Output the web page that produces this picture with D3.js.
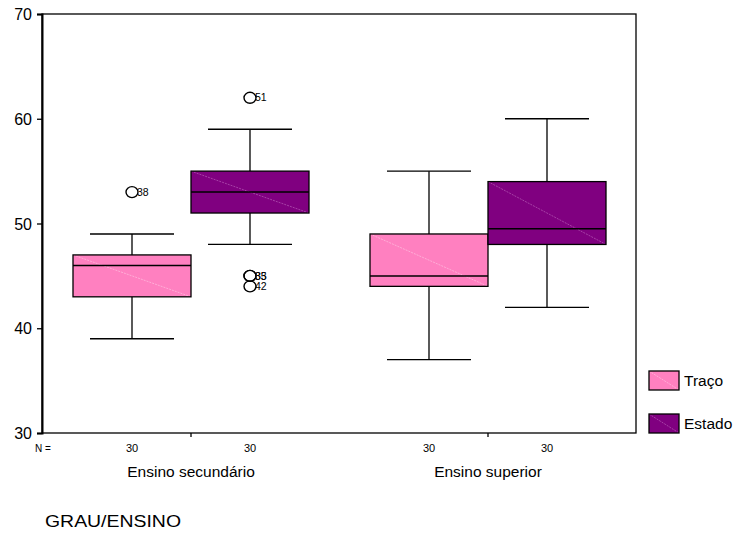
<!DOCTYPE html>
<html>
<head>
<meta charset="utf-8">
<script src="https://cdn.jsdelivr.net/npm/d3@7"></script>
<style>
  body { margin: 0; background: #fff; }
  text { font-family: "Liberation Sans", Arial, sans-serif; fill: #000; }
</style>
</head>
<body>
<div id="chart"></div>
<script>
// categories and series
var groups = ["Ensino secundário", "Ensino superior"];
var series = ["Traço", "Estado"];
var counts = [[30, 30], [30, 30]];

// box stats per group: [whiskerLow, q1, median, q3, whiskerHigh]
var tracoStats = [[39, 43, 46, 47, 49], [37, 44, 45, 49, 55]];
var estadoStats = [[48, 51, 53, 55, 59], [42, 48, 49.5, 54, 60]];

// outliers: group index, series index, value, case label
var outlierGroup = [0, 0, 0, 0, 0];
var outlierSeries = [0, 1, 1, 1, 1];
var outlierValue = [53, 62, 45, 45, 44];
var outlierLabel = ["38", "51", "33", "35", "42"];

var yTicks = [30, 40, 50, 60, 70];
var colors = { "Traço": "#ff80c0", "Estado": "#800080" };
var diagColors = { "Traço": "#ffb8dc", "Estado": "#b050b0" };

var width = 734, height = 534;
var margin = {top: 14, right: 98, bottom: 101, left: 42};
var plotW = width - margin.left - margin.right,
    plotH = height - margin.top - margin.bottom;

var svg = d3.select("#chart").append("svg")
    .attr("width", width)
    .attr("height", height);

var g = svg.append("g")
    .attr("transform", "translate(" + margin.left + "," + margin.top + ")");

// scales
var x0 = d3.scaleBand().domain(groups).range([0.5, plotW + 0.5]).padding(0);
var y = d3.scaleLinear().domain([30, 70]).range([plotH, 0]);
var boxW = 118;
var x1 = d3.scaleBand().domain(series).range([-boxW, boxW]).padding(0);
var capW = 84;

// frame
g.append("rect")
    .attr("x", 0).attr("y", 0)
    .attr("width", plotW).attr("height", plotH)
    .attr("fill", "none").attr("stroke", "#000").attr("stroke-width", 1.3);

// y axis
var yAxis = g.append("g")
    .call(d3.axisLeft(y).tickValues(yTicks).tickSize(5).tickPadding(5));
yAxis.select(".domain").attr("stroke-width", 2);
yAxis.selectAll(".tick line").attr("stroke-width", 1.3);
yAxis.selectAll("text").style("font-size", "16px").attr("dy", "0.35em");

// x axis ticks only
var xAxis = g.append("g")
    .attr("transform", "translate(0," + plotH + ")")
    .call(d3.axisBottom(x0).tickSize(4).tickFormat(""));
xAxis.select(".domain").remove();
xAxis.selectAll(".tick line").attr("stroke-width", 1.3);

// flatten box data
var boxes = [];
groups.forEach(function(gr, gi) {
  series.forEach(function(s, si) {
    var st = (s === "Traço" ? tracoStats : estadoStats)[gi];
    boxes.push({group: gr, series: s, n: counts[gi][si],
      lo: st[0], q1: st[1], med: st[2], q3: st[3], hi: st[4]});
  });
});

function cx(d) {
  return x0(d.group) + x0.bandwidth() / 2 + x1(d.series) + x1.bandwidth() / 2;
}

var bg = g.selectAll(".box").data(boxes).enter().append("g").attr("class", "box");

// whiskers
bg.append("line")
    .attr("x1", cx).attr("x2", cx)
    .attr("y1", function(d) { return y(d.lo); })
    .attr("y2", function(d) { return y(d.q1); })
    .attr("stroke", "#000").attr("stroke-width", 1.3);
bg.append("line")
    .attr("x1", cx).attr("x2", cx)
    .attr("y1", function(d) { return y(d.q3); })
    .attr("y2", function(d) { return y(d.hi); })
    .attr("stroke", "#000").attr("stroke-width", 1.3);
bg.append("line")
    .attr("x1", function(d) { return cx(d) - capW / 2; })
    .attr("x2", function(d) { return cx(d) + capW / 2; })
    .attr("y1", function(d) { return y(d.lo); })
    .attr("y2", function(d) { return y(d.lo); })
    .attr("stroke", "#000").attr("stroke-width", 1.3);
bg.append("line")
    .attr("x1", function(d) { return cx(d) - capW / 2; })
    .attr("x2", function(d) { return cx(d) + capW / 2; })
    .attr("y1", function(d) { return y(d.hi); })
    .attr("y2", function(d) { return y(d.hi); })
    .attr("stroke", "#000").attr("stroke-width", 1.3);

// box
bg.append("rect")
    .attr("x", function(d) { return cx(d) - boxW / 2; })
    .attr("y", function(d) { return y(d.q3); })
    .attr("width", boxW)
    .attr("height", function(d) { return y(d.q1) - y(d.q3); })
    .attr("fill", function(d) { return colors[d.series]; });
// faint diagonal
bg.append("line")
    .attr("x1", function(d) { return cx(d) - boxW / 2; })
    .attr("y1", function(d) { return y(d.q3); })
    .attr("x2", function(d) { return cx(d) + boxW / 2; })
    .attr("y2", function(d) { return y(d.q1); })
    .attr("stroke", function(d) { return diagColors[d.series]; })
    .attr("stroke-width", 0.8)
    .attr("stroke-dasharray", "2,1");
bg.append("rect")
    .attr("x", function(d) { return cx(d) - boxW / 2; })
    .attr("y", function(d) { return y(d.q3); })
    .attr("width", boxW)
    .attr("height", function(d) { return y(d.q1) - y(d.q3); })
    .attr("fill", "none").attr("stroke", "#000").attr("stroke-width", 1.3);
// median
bg.append("line")
    .attr("x1", function(d) { return cx(d) - boxW / 2; })
    .attr("x2", function(d) { return cx(d) + boxW / 2; })
    .attr("y1", function(d) { return y(d.med); })
    .attr("y2", function(d) { return y(d.med); })
    .attr("stroke", "#000").attr("stroke-width", 1.5);

// N counts
bg.append("text")
    .attr("x", cx)
    .attr("y", plotH + 19)
    .attr("text-anchor", "middle")
    .style("font-size", "11px")
    .text(function(d) { return d.n; });

g.append("text")
    .attr("x", 1)
    .attr("y", plotH + 19)
    .attr("text-anchor", "middle")
    .style("font-size", "10px")
    .text("N =");

// outliers
var outliers = outlierValue.map(function(v, i) {
  return {group: groups[outlierGroup[i]], series: series[outlierSeries[i]],
    value: v, label: outlierLabel[i]};
});
var og = g.selectAll(".outlier").data(outliers).enter().append("g");
og.append("ellipse")
    .attr("cx", cx)
    .attr("cy", function(d) { return y(d.value); })
    .attr("rx", 6).attr("ry", 5.5)
    .attr("fill", "none").attr("stroke", "#000").attr("stroke-width", 1.4);
og.append("text")
    .attr("x", function(d) { return cx(d) + 5; })
    .attr("y", function(d) { return y(d.value); })
    .attr("dy", "0.35em")
    .style("font-size", "10.5px")
    .text(function(d) { return d.label; });

// group labels
g.selectAll(".glabel").data(groups).enter().append("text")
    .attr("x", function(d) { return x0(d) + x0.bandwidth() / 2; })
    .attr("y", plotH + 44)
    .attr("text-anchor", "middle")
    .style("font-size", "15.5px")
    .text(function(d) { return d; });

// axis title
svg.append("text")
    .attr("x", 45)
    .attr("y", 527)
    .style("font-size", "16px")
    .attr("textLength", 136)
    .attr("lengthAdjust", "spacingAndGlyphs")
    .text("GRAU/ENSINO");

// legend
var lg = svg.selectAll(".legend").data(series).enter().append("g")
    .attr("transform", function(d, i) { return "translate(649," + (371 + i * 43) + ")"; });
lg.append("rect")
    .attr("width", 30).attr("height", 19)
    .attr("fill", function(d) { return colors[d]; });
lg.append("line")
    .attr("x1", 0).attr("y1", 0).attr("x2", 30).attr("y2", 19)
    .attr("stroke", function(d) { return diagColors[d]; })
    .attr("stroke-width", 0.8).attr("stroke-dasharray", "2,1");
lg.append("rect")
    .attr("width", 30).attr("height", 19)
    .attr("fill", "none").attr("stroke", "#000").attr("stroke-width", 1.3);
lg.append("text")
    .attr("x", 35).attr("y", 10)
    .attr("dy", "0.35em")
    .style("font-size", "15.5px")
    .text(function(d) { return d; });
</script>
</body>
</html>
